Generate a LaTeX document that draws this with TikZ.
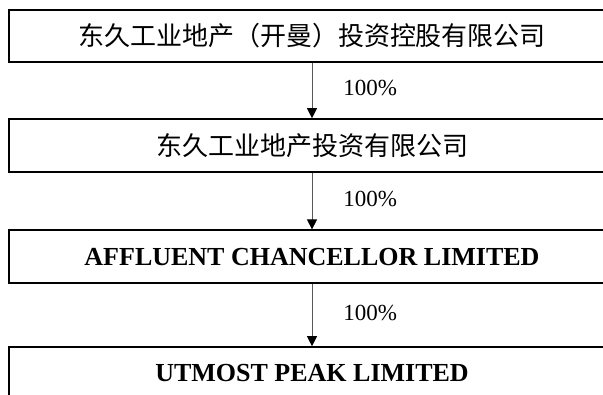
\documentclass[tikz,border=0pt]{standalone}
\usepackage{fontspec}
\setmainfont{Liberation Serif}
\newfontfamily\cjk{Noto Sans CJK SC}
\usepackage{tikz}
\usetikzlibrary{arrows.meta}

\begin{document}
\begin{tikzpicture}[x=1pt, y=1pt,
    company/.style={draw, line width=1.6pt, minimum width=606pt, minimum height=53pt,
      inner sep=0pt, font=\fontsize{26}{30}\selectfont},
    arr/.style={line width=0.8pt, black!65, -{Triangle[width=10pt, length=10pt, black]}},
    pct/.style={right, inner sep=0pt, xshift=31pt, yshift=2pt, text=black, font=\fontsize{23}{26}\selectfont}]
  \useasboundingbox (0,0) rectangle (603,-394);
  \clip (0,0) rectangle (603,-394);

  % ----- Ownership chain -----
  \node[company, minimum height=52pt] (b1) at (312,-36) {\cjk 东久工业地产（开曼）投资控股有限公司};
  \node[company] (b2) at (312,-145.5) {\cjk 东久工业地产投资有限公司};
  \node[company] (b3) at (312,-256.7) {\textbf{AFFLUENT CHANCELLOR LIMITED}};
  \node[company] (b4) at (312,-373.5) {\textbf{UTMOST PEAK LIMITED}};

  % Shareholding arrows
  \foreach \a/\b in {b1/b2, b2/b3, b3/b4} {
    \draw[arr] (\a) -- (\b) node[midway, pct] (p\a) {100\%};
  }
\end{tikzpicture}
\end{document}
